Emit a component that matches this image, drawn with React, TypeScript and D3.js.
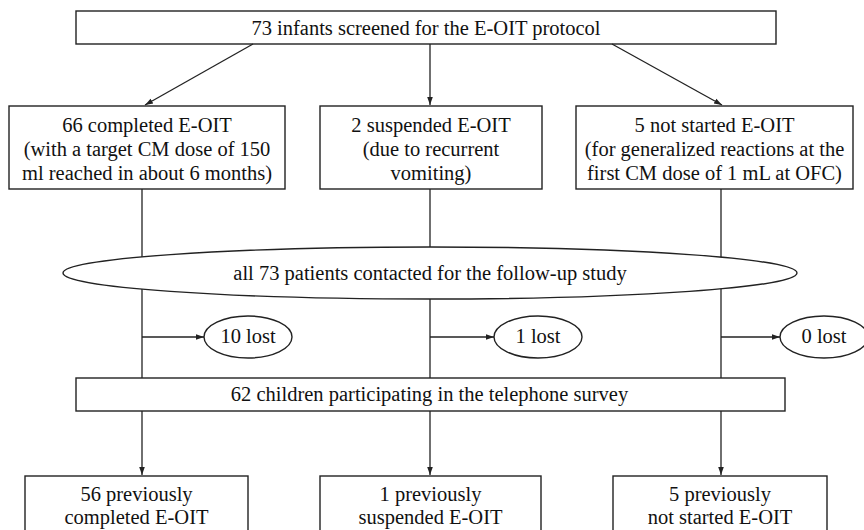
import React from "react";
import * as d3 from "d3";

const topLabel = "73 infants screened for the E-OIT protocol";
const groupLabels: string[][] = [
  ["66 completed E-OIT", "(with a target CM dose of 150", "ml reached in about 6 months)"],
  ["2 suspended E-OIT", "(due to recurrent", "vomiting)"],
  ["5 not started E-OIT", "(for generalized reactions at the", "first CM dose of 1 mL at OFC)"],
];
const contactLabel = "all 73 patients contacted for the follow-up study";
const lostCounts = [10, 1, 0];
const surveyLabel = "62 children participating in the telephone survey";
const finalLabels: string[][] = [
  ["56 previously", "completed E-OIT"],
  ["1 previously", "suspended E-OIT"],
  ["5 previously", "not started E-OIT"],
];

const W = 864;
const H = 530;
const FONT = "'Liberation Serif', 'Times New Roman', serif";
const FS = 20.5;
const STROKE = "#222";

export default function App() {
  // layout
  const colX = [142, 430, 721];
  const groupBoxes = [
    { x0: 9, x1: 285 },
    { x0: 320, x1: 542 },
    { x0: 576, x1: 853 },
  ];
  const finalBoxes = [
    { x0: 25, x1: 248 },
    { x0: 320, x1: 541 },
    { x0: 613, x1: 827 },
  ];
  const lostCx = [248, 538, 824];
  const top = { x0: 76, x1: 776, y0: 11, y1: 44 };
  const gy0 = 106, gy1 = 189;
  const ell = { cx: 430, cy: 273, rx: 367, ry: 26 };
  const lostCy = 337;
  const survey = { x0: 76, x1: 785, y0: 378, y1: 411 };
  const fy0 = 476;

  const lineGen = d3.line<[number, number]>();
  const txt = (s: string, x: number, yc: number, key?: string) => (
    <text key={key} x={x} y={yc + FS * 0.34} textAnchor="middle" fontFamily={FONT} fontSize={FS} fill="#111">
      {s}
    </text>
  );

  const arrows: [number, number][][] = [
    [[253, top.y1], [145, gy0 - 1]],
    [[430, top.y1], [430, gy0 - 1]],
    [[612, top.y1], [722, gy0 - 1]],
  ];

  return (
    <svg width={W} height={H} style={{ position: "absolute", left: 0, top: 0, background: "#fff" }}>
      <defs>
        <marker id="ah" viewBox="0 0 10 10" refX="10" refY="5" markerWidth="8" markerHeight="8" markerUnits="userSpaceOnUse" orient="auto">
          <path d="M0,1.5 L10,5 L0,8.5 Z" fill={STROKE} />
        </marker>
      </defs>
      <rect x={0} y={0} width={W} height={H} fill="#fff" />

      {/* top box */}
      <rect x={top.x0} y={top.y0} width={top.x1 - top.x0} height={top.y1 - top.y0} fill="#fff" stroke={STROKE} strokeWidth={1.4} />
      {txt(topLabel, (top.x0 + top.x1) / 2, 28)}

      {arrows.map((a, i) => (
        <path key={"a" + i} d={lineGen(a) || ""} stroke={STROKE} strokeWidth={1.3} fill="none" markerEnd="url(#ah)" />
      ))}

      {/* vertical connectors from group boxes to survey box */}
      {colX.map((x, i) => (
        <path key={"v" + i} d={lineGen([[x, gy1], [x, survey.y0]]) || ""} stroke={STROKE} strokeWidth={1.3} fill="none" />
      ))}

      {/* lost arrows */}
      {colX.map((x, i) => (
        <path key={"l" + i} d={lineGen([[x, lostCy], [lostCx[i] - 44, lostCy]]) || ""} stroke={STROKE} strokeWidth={1.3} fill="none" markerEnd="url(#ah)" />
      ))}

      {/* group boxes */}
      {groupBoxes.map((b, i) => (
        <g key={"g" + i}>
          <rect x={b.x0} y={gy0} width={b.x1 - b.x0} height={gy1 - gy0} fill="#fff" stroke={STROKE} strokeWidth={1.4} />
          {groupLabels[i].map((s, j) => txt(s, (b.x0 + b.x1) / 2, 125 + j * 24, "t" + j))}
        </g>
      ))}

      {/* contacted ellipse */}
      <ellipse cx={ell.cx} cy={ell.cy} rx={ell.rx} ry={ell.ry} fill="#fff" stroke={STROKE} strokeWidth={1.4} />
      {txt(contactLabel, ell.cx, ell.cy)}

      {/* lost ellipses */}
      {lostCounts.map((n, i) => (
        <g key={"e" + i}>
          <ellipse cx={lostCx[i]} cy={lostCy} rx={44} ry={21} fill="#fff" stroke={STROKE} strokeWidth={1.4} />
          {txt(`${n} lost`, lostCx[i], lostCy - 1)}
        </g>
      ))}

      {/* survey box */}
      <rect x={survey.x0} y={survey.y0} width={survey.x1 - survey.x0} height={survey.y1 - survey.y0} fill="#fff" stroke={STROKE} strokeWidth={1.4} />
      {txt(surveyLabel, (survey.x0 + 785) / 2 - 1, 394)}

      {/* arrows to final boxes */}
      {colX.map((x, i) => (
        <path key={"f" + i} d={lineGen([[x, survey.y1], [x, fy0 - 1]]) || ""} stroke={STROKE} strokeWidth={1.3} fill="none" markerEnd="url(#ah)" />
      ))}

      {/* final boxes */}
      {finalBoxes.map((b, i) => (
        <g key={"fb" + i}>
          <rect x={b.x0} y={fy0} width={b.x1 - b.x0} height={80} fill="#fff" stroke={STROKE} strokeWidth={1.4} />
          {finalLabels[i].map((s, j) => txt(s, (b.x0 + b.x1) / 2, 494 + j * 23, "t" + j))}
        </g>
      ))}
    </svg>
  );
}
